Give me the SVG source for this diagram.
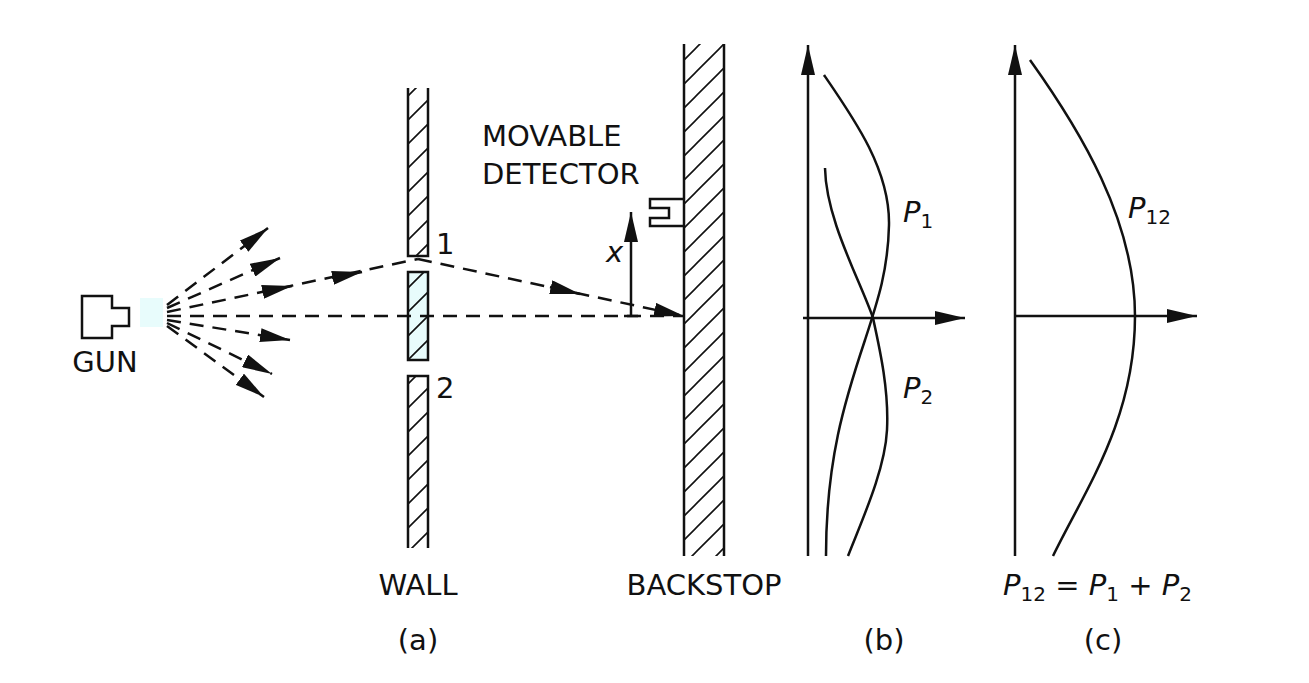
<svg xmlns="http://www.w3.org/2000/svg" width="1309" height="683" viewBox="0 0 1309 683">
<style>
.t{font-family:"DejaVu Sans","Liberation Sans",sans-serif;font-size:29px;fill:#111}
.i{font-style:italic}
.s{stroke:#111;stroke-width:2.5;fill:none}
.d{stroke:#111;stroke-width:2.5;fill:none;stroke-dasharray:14 9}
</style>
<defs>
<marker id="b" viewBox="0 0 30 14" refX="30" refY="7" markerWidth="30" markerHeight="14" markerUnits="userSpaceOnUse" orient="auto"><path d="M0,0 L30,7 L0,14 z" fill="#111"/></marker>
<pattern id="hp" width="24" height="24" patternUnits="userSpaceOnUse"><path d="M-6,30 L30,-6 M-6,6 L6,-6 M18,30 L30,18" stroke="#111" stroke-width="1.6"/></pattern>
</defs>
<g id="gun">
<path class="s" d="M82,296 H112 V308 H129 V326 H112 V338 H82 Z"/>
<rect x="140" y="298" width="23" height="29" fill="#e8fcfc"/>
<text class="t" x="105" y="372" text-anchor="middle">GUN</text>
</g>
<g id="wall">
<rect x="408" y="88" width="20" height="168" fill="url(#hp)"/>
<path class="s" d="M408,88 V256 H428 V88"/>
<rect x="408" y="272" width="20" height="88" fill="#e8fcfc"/>
<rect x="408" y="272" width="20" height="88" fill="url(#hp)"/>
<rect x="408" y="272" width="20" height="88" class="s"/>
<rect x="408" y="376" width="20" height="172" fill="url(#hp)"/>
<path class="s" d="M408,548 V376 H428 V548"/>
<text class="t" x="436" y="254" font-size="26">1</text>
<text class="t" x="436" y="398" font-size="26">2</text>
<text class="t" x="418" y="595" text-anchor="middle">WALL</text>
<text class="t" x="418" y="650" text-anchor="middle">(a)</text>
</g>
<g id="backstop">
<rect x="684" y="44" width="40" height="512" fill="url(#hp)"/>
<path class="s" d="M684,44 V556 M724,44 V556"/>
<text class="t" x="704" y="595" text-anchor="middle">BACKSTOP</text>
</g>
<g id="detector">
<path class="s" d="M684,199 H650 V208 H669 V218 H650 V226 H684"/>
<text class="t" x="482" y="146">MOVABLE</text>
<text class="t" x="482" y="184">DETECTOR</text>
<path class="s" d="M631,316 V212" marker-end="url(#b)"/>
<path class="s" d="M624,316 H638"/>
<text class="t i" x="606" y="262">x</text>
</g>
<g id="connectors">
<path class="d" d="M167,305 L268,228" marker-end="url(#b)"/>
<path class="d" d="M167,308 L280,258" marker-end="url(#b)"/>
<path class="d" d="M167,312 L418,259"/>
<path class="s" d="M262,292 L292,286" marker-end="url(#b)"/>
<path class="s" d="M332,278 L362,272" marker-end="url(#b)"/>
<path class="d" d="M418,259 L684,316" marker-end="url(#b)"/>
<path class="s" d="M550,287 L580,294" marker-end="url(#b)"/>
<path class="d" d="M167,316 L684,316"/>
<path class="d" d="M167,320 L290,340" marker-end="url(#b)"/>
<path class="d" d="M167,323 L272,374" marker-end="url(#b)"/>
<path class="d" d="M167,326 L264,397" marker-end="url(#b)"/>
</g>
<g id="graph-b">
<path class="s" d="M808,556 V45" marker-end="url(#b)"/>
<path class="s" d="M803,318 H965" marker-end="url(#b)"/>
<path class="s" d="M824,75 C855,120 890,170 889,225 C888,270 878,300 865,340 C845,400 826,460 826,556"/>
<path class="s" d="M825,168 C826,220 860,280 873,318 C880,350 889,390 887,430 C885,470 862,520 848,556"/>
<text class="t i" x="903" y="222">P<tspan font-size="20" font-style="normal" dy="6">1</tspan></text>
<text class="t i" x="903" y="398">P<tspan font-size="20" font-style="normal" dy="6">2</tspan></text>
<text class="t" x="884" y="650" text-anchor="middle">(b)</text>
</g>
<g id="graph-c">
<path class="s" d="M1015,556 V45" marker-end="url(#b)"/>
<path class="s" d="M1015,316 H1197" marker-end="url(#b)"/>
<path class="s" d="M1030,60 C1080,130 1135,220 1135,316 C1135,420 1085,490 1053,556"/>
<text class="t i" x="1128" y="218">P<tspan font-size="20" font-style="normal" dy="6">12</tspan></text>
<text class="t" x="1003" y="595"><tspan class="i">P</tspan><tspan font-size="20" dy="6">12</tspan><tspan dy="-6"> = </tspan><tspan class="i">P</tspan><tspan font-size="20" dy="6">1</tspan><tspan dy="-6"> + </tspan><tspan class="i">P</tspan><tspan font-size="20" dy="6">2</tspan></text>
<text class="t" x="1103" y="650" text-anchor="middle">(c)</text>
</g>
</svg>
